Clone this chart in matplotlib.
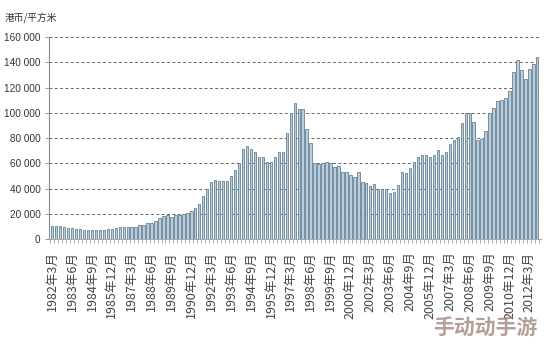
import matplotlib
matplotlib.use('Agg')
import numpy as np
import matplotlib.pyplot as plt
from matplotlib.ticker import FuncFormatter, MultipleLocator

plt.rcParams['font.family'] = ['Noto Sans CJK SC', 'DejaVu Sans']

# quarterly average price, 1982Q1 .. 2012Q3 (HKD per square metre)
prices = [
    10300, 10500, 10300, 9300, 8800, 8700, 8000, 7600,
    7400, 7500, 7200, 6800, 6800, 7300, 7700, 8300,
    9000, 9600, 9300, 9800, 9700, 9900, 11000, 11000,
    12900, 12900, 14500, 16500, 18200, 19000, 17300, 19000,
    19000, 20000, 21000, 22500, 25000, 28000, 34500, 40000,
    45500, 46600, 46000, 46000, 46000, 50000, 55000, 60000,
    71000, 74000, 71000, 69000, 65000, 65000, 61000, 61000,
    65000, 69000, 69000, 84000, 100000, 108000, 103000, 103000,
    87000, 76000, 60000, 59500, 60000, 61000, 60000, 57000,
    58000, 53000, 53000, 51000, 49000, 53000, 45000, 44500,
    42000, 43500, 40000, 39500, 39500, 36500, 37500, 43000,
    53000, 52500, 56000, 61000, 65000, 67000, 67000, 65000,
    67000, 70500, 67000, 69000, 75000, 78500, 81000, 92000,
    100000, 100000, 93000, 78500, 79500, 86000, 100000, 104000,
    109500, 110000, 112000, 117000, 132000, 142000, 134000, 127000,
    135000, 139000, 144000,
]

months = [3, 6, 9, 12]
quarters = [f'{1982 + i // 4}年{months[i % 4]}月' for i in range(len(prices))]
label_idx = list(range(0, len(prices), 5))

fig = plt.figure(figsize=(5.44, 3.47), dpi=100)
ax = fig.add_axes([0.090, 0.311, 0.905, 0.582])

x = np.arange(len(prices))
ax.bar(x, prices, width=0.6, color='#b4cfe2', edgecolor='#6b808f', linewidth=0.6, zorder=3)

ax.set_ylim(0, 160000)
ax.set_xlim(-0.8, 123)
ax.yaxis.set_major_locator(MultipleLocator(20000))
ax.yaxis.set_major_formatter(FuncFormatter(lambda v, p: f'{int(v):,}'.replace(',', ' ')))
ax.grid(axis='y', linestyle=(0, (3, 2.5)), color='#666666', linewidth=0.7, zorder=0)

ax.set_xticks(label_idx)
ax.set_xticklabels([quarters[i] for i in label_idx], rotation=90, fontsize=9, color='#444444')
ax.set_xticks(np.arange(len(prices) + 1) - 0.5, minor=True)
ax.tick_params(axis='x', which='major', length=0, pad=9)
ax.tick_params(axis='x', which='minor', length=3, width=0.5, color='#888888')
ax.tick_params(axis='y', length=3, width=0.6, color='#888888', labelsize=7.2, labelcolor='#333333', pad=3)
for lab in ax.get_yticklabels():
    lab.set_family(['Liberation Sans Narrow', 'Liberation Sans', 'DejaVu Sans'])

for side in ['top', 'right']:
    ax.spines[side].set_visible(False)
ax.spines['left'].set_color('#888888')
ax.spines['left'].set_linewidth(0.8)
ax.spines['bottom'].set_color('#999999')
ax.spines['bottom'].set_linewidth(0.6)

fig.text(0.008, 0.948, '港币/平方米', fontsize=7, color='#333333', ha='left', va='center')
fig.text(0.988, 0.028, '手动动手游', fontsize=15, fontweight='bold', color='#9a7f72',
         alpha=0.75, ha='right', va='bottom')

fig.savefig('out.png', dpi=100, facecolor='white')
